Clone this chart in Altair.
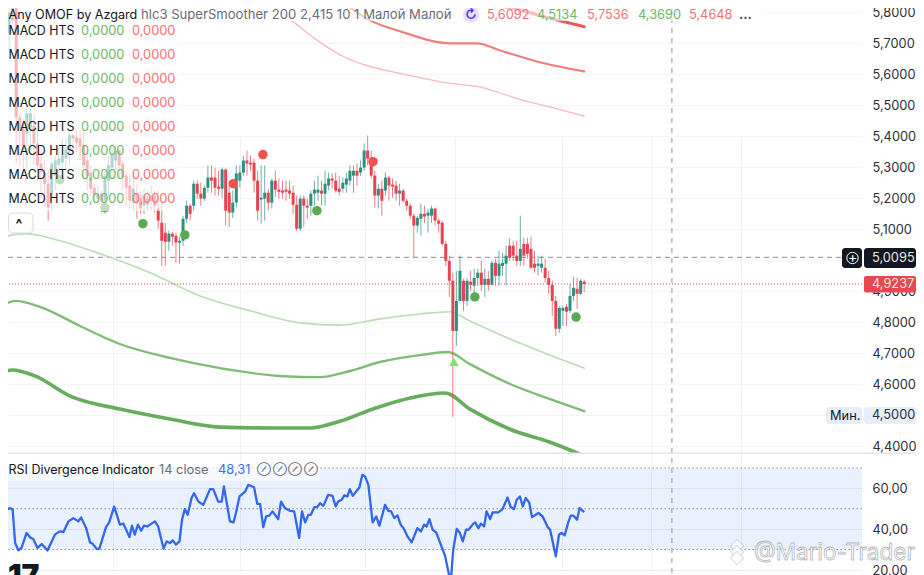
import altair as alt
import pandas as pd

FONT = "Inter"

opens = [5.742,5.823,5.732,5.850,5.823,5.461,5.425,5.409,5.428,5.435,
5.377,5.312,5.283,5.247,5.209,5.273,5.309,5.315,5.328,5.354,
5.403,5.396,5.393,5.373,5.322,5.283,5.234,5.199,5.215,5.192,
5.257,5.299,5.322,5.354,5.312,5.273,5.241,5.186,5.215,5.202,
5.176,5.199,5.192,5.209,5.167,5.121,5.089,5.060,5.086,5.079,
5.057,5.063,5.134,5.176,5.176,5.247,5.215,5.199,5.234,5.267,
5.267,5.238,5.231,5.293,5.218,5.154,5.186,5.257,5.283,5.322,
5.315,5.315,5.257,5.196,5.199,5.218,5.186,5.257,5.228,5.225,
5.228,5.225,5.218,5.179,5.102,5.199,5.176,5.176,5.215,5.218,
5.225,5.215,5.241,5.264,5.257,5.231,5.231,5.244,5.257,5.273,
5.289,5.283,5.299,5.354,5.331,5.273,5.209,5.231,5.225,5.267,
5.244,5.241,5.215,5.225,5.192,5.176,5.144,5.112,5.134,5.150,
5.144,5.144,5.167,5.128,5.121,5.053,4.998,4.934,4.772,4.869,
4.934,4.869,4.931,4.918,4.943,4.960,4.921,4.940,4.921,4.992,
4.950,4.982,4.989,5.047,5.047,5.015,4.998,5.053,5.053,5.037,
4.989,4.982,4.976,4.976,4.943,4.921,4.869,4.779,4.837,4.850,
4.837,4.885,4.908,4.892,4.931]
highs = [5.850,5.840,5.840,5.850,5.840,5.474,5.457,5.490,5.490,5.474,
5.419,5.360,5.322,5.289,5.322,5.338,5.370,5.393,5.393,5.412,
5.409,5.419,5.419,5.419,5.354,5.306,5.247,5.241,5.225,5.289,
5.338,5.377,5.370,5.360,5.322,5.289,5.273,5.289,5.247,5.225,
5.231,5.225,5.241,5.225,5.225,5.192,5.121,5.095,5.092,5.089,
5.076,5.144,5.192,5.183,5.257,5.257,5.250,5.241,5.306,5.306,
5.299,5.289,5.299,5.296,5.241,5.225,5.306,5.306,5.338,5.354,
5.338,5.328,5.289,5.306,5.306,5.231,5.264,5.289,5.264,5.257,
5.257,5.257,5.241,5.209,5.209,5.209,5.199,5.225,5.257,5.273,
5.257,5.289,5.283,5.280,5.283,5.273,5.267,5.283,5.306,5.306,
5.312,5.322,5.377,5.403,5.354,5.289,5.247,5.257,5.283,5.273,
5.264,5.257,5.247,5.231,5.199,5.183,5.150,5.144,5.183,5.176,
5.167,5.176,5.170,5.134,5.128,5.063,5.015,4.960,4.966,5.015,
4.940,4.943,4.966,4.973,4.973,4.998,4.973,4.966,4.998,5.005,
5.031,5.024,5.047,5.070,5.063,5.063,5.144,5.073,5.073,5.076,
5.031,5.015,5.015,5.005,4.966,4.934,4.885,4.853,4.853,4.859,
4.924,4.947,4.943,4.940,4.937]
lows = [5.684,5.651,5.677,5.760,5.312,5.306,5.273,5.289,5.354,5.306,
5.257,5.199,5.176,5.128,5.160,5.225,5.257,5.273,5.289,5.306,
5.354,5.348,5.322,5.257,5.225,5.209,5.192,5.176,5.154,5.150,
5.209,5.257,5.283,5.264,5.225,5.176,5.167,5.160,5.134,5.150,
5.150,5.160,5.160,5.154,5.102,4.982,4.982,5.031,5.047,4.992,
4.989,5.047,5.121,5.128,5.160,5.199,5.176,5.192,5.218,5.218,
5.209,5.209,5.202,5.112,5.108,5.137,5.170,5.234,5.273,5.273,
5.289,5.218,5.128,5.118,5.128,5.160,5.167,5.205,5.199,5.199,
5.192,5.199,5.150,5.095,5.095,5.108,5.134,5.144,5.176,5.192,
5.176,5.176,5.225,5.231,5.218,5.209,5.218,5.218,5.241,5.218,
5.241,5.273,5.289,5.306,5.264,5.170,5.167,5.144,5.209,5.192,
5.202,5.192,5.176,5.186,5.160,5.134,5.008,5.089,5.079,5.121,
5.089,5.121,5.112,5.089,5.047,4.982,4.882,4.494,4.724,4.869,
4.837,4.853,4.901,4.885,4.918,4.901,4.882,4.901,4.918,4.918,
4.918,4.950,4.918,4.998,4.998,4.982,4.982,4.982,5.005,4.973,
4.960,4.950,4.960,4.927,4.892,4.821,4.756,4.766,4.788,4.788,
4.830,4.869,4.843,4.888,4.898]
closes = [5.840,5.703,5.800,5.774,5.461,5.419,5.370,5.474,5.474,5.377,
5.306,5.283,5.247,5.170,5.312,5.322,5.328,5.338,5.360,5.403,
5.393,5.380,5.367,5.306,5.273,5.231,5.209,5.215,5.192,5.273,
5.306,5.344,5.354,5.306,5.267,5.234,5.192,5.231,5.183,5.167,
5.209,5.179,5.209,5.176,5.128,5.063,5.060,5.086,5.076,5.057,
5.063,5.134,5.176,5.150,5.247,5.215,5.199,5.234,5.267,5.257,
5.234,5.231,5.293,5.160,5.154,5.186,5.280,5.283,5.322,5.312,
5.309,5.257,5.160,5.202,5.218,5.186,5.257,5.228,5.221,5.218,
5.221,5.215,5.179,5.102,5.199,5.176,5.170,5.215,5.228,5.228,
5.215,5.247,5.264,5.257,5.225,5.221,5.250,5.264,5.289,5.289,
5.273,5.299,5.354,5.328,5.273,5.209,5.231,5.192,5.267,5.241,
5.238,5.215,5.225,5.192,5.176,5.144,5.112,5.137,5.150,5.141,
5.154,5.167,5.128,5.118,5.053,4.998,4.934,4.772,4.869,4.966,
4.869,4.934,4.921,4.943,4.960,4.921,4.940,4.921,4.992,4.950,
4.989,4.992,5.015,5.008,5.015,4.998,5.037,5.015,5.021,4.976,
4.976,4.989,4.989,4.943,4.921,4.869,4.779,4.846,4.846,4.834,
4.885,4.911,4.892,4.934,4.9237]

thin_red_bar = [73.5,79.7,89.6,96.6,101.7,112.1,126.2,133.8,145.9,157.2,164]
thin_red = [5.839,5.790,5.703,5.655,5.632,5.603,5.571,5.561,5.519,5.486,5.4648]
mid_red_bar = [95.2,103.7,112.1,126.2,133.8,140.3,151.5,164]
mid_red = [5.839,5.774,5.739,5.700,5.700,5.677,5.639,5.6092]
thick_red_bar = [126.2,133.8,145.9,154.4,164]
thick_red = [5.839,5.832,5.807,5.781,5.7536]

thin_green_bar = [-0.6,6.5,16.3,27.6,41.7,55.8,69.9,84,95.2,106.5,117.7,126.2,131.8,143.1,154.4,164]
thin_green = [5.073,5.086,5.063,5.021,4.960,4.885,4.837,4.798,4.791,4.811,4.827,4.834,4.804,4.746,4.694,4.652]
mid_green_bar = [-0.6,3.7,10.7,22,33.2,47.3,61.4,78.3,89.6,98,106.5,117.7,125.6,131.8,143.1,154.4,164]
mid_green = [4.850,4.869,4.850,4.788,4.730,4.685,4.652,4.627,4.623,4.643,4.672,4.694,4.704,4.665,4.601,4.552,4.5134]
thick_green_bar = [-0.6,2.8,9.3,19.2,33.2,47.3,61.4,75.5,86.8,95.2,105.1,115,124.8,131.8,143.1,154.4,164]
thick_green = [4.636,4.646,4.627,4.562,4.520,4.488,4.462,4.459,4.459,4.481,4.523,4.556,4.572,4.520,4.455,4.413,4.3690]

red_dot_bar = [73.5,65.1,104.5]
red_dot_price = [5.341,5.247,5.318]
green_dot_bar = [39.7,51.5,88.7,133.2,161.7,16.3,29]
green_dot_price = [5.118,5.082,5.160,4.882,4.817,5.260,5.170]

rsi_bar = [-0.6,0.2,1.1,2.3,3.0,3.7,4.6,5.5,6.9,8.1,8.8,10,11.2,12.8,14.9,16.2,17.3,18.7,20.1,21.5,22.3,23.7,24.8,25.5,26.7,27.4,
29.3,30.2,31.6,33.2,34.2,35.9,36.6,37.4,38.3,39.2,40,40.9,41.7,43.1,44,45.5,46.4,47.3,48.1,49,50,50.7,51.5,52.3,53.4,54.1,55.3,56.7,
58.6,59.5,60.9,61.9,62.5,64.2,65.2,65.9,66.9,68.5,69.4,71,71.9,72.7,73.6,74.4,75.3,76.2,77.8,78.6,79.7,81.1,82.3,83.7,84.5,85.4,86.3,
87,88,88.8,89.6,90.5,91.9,93.1,94,94.7,95.7,96.4,97.3,98,98.8,100.7,101.5,102.3,103.2,104.4,105.4,106.3,107.9,108.8,109.6,110.5,111.4,
112.3,113.1,114.2,115.4,117,118,118.9,119.6,120.4,121.3,122.3,124.8,126.4,127.1,128.1,129,129.8,130.7,131.4,132.8,133.3,134.2,134.9,
135.8,136.5,137.5,138.2,139.8,141,142.4,143.3,144.2,145,145.9,146.7,147.5,148.5,149.3,151.1,152.3,153.7,154.4,156,156.9,157.6,158.5,
159.5,160.2,161,162,162.7,164]
rsi_value = [51.9,43,49.5,50.3,49.5,33.2,29.7,30.8,38.1,35.7,35.2,30.8,32.7,29.5,37.3,38.9,38.6,43.8,45.4,43.8,45.7,40.5,33.5,32.9,30.3,30.3,
41,43.3,51.1,42.2,42.7,36.1,41.7,37.3,42.2,39.2,41.7,41.3,42.2,43.8,41.3,30.5,34,33.2,34.5,32.4,34,44.6,49.8,47,55.2,57.6,53.5,51.9,
59.6,59.6,53.5,53.5,60.9,43.8,43.3,47.9,56,58.4,61.7,60.5,52.4,52.4,41,46.2,46.6,48.7,44.9,53.5,50.3,49,48.7,35.7,48.7,43.3,47,
47,50.8,50.8,52.7,51.4,56.8,56.3,51.1,53.5,54.4,56.5,56,59.6,56.3,60.5,66.6,65.7,61.7,43.3,46.2,41.7,51.9,49,48.7,45.4,46.7,
42.2,40.5,36.5,33.5,40.5,38.9,42.2,41.3,44.9,39.7,38.4,27,13.7,30,40.1,38.1,34,39.7,39.7,42.7,43.3,40.5,42.7,
41.3,48.7,44.9,48.2,48.2,49.8,55.5,50.8,49.8,54.4,56,51.1,55.2,53.1,45.9,47.9,46.2,41,39.7,26.7,37.3,38.1,37,
43.3,46.6,46.6,44.6,50.3,48.31]

price_ticks = [4.4,4.5,4.6,4.7,4.8,4.9,5.0,5.1,5.2,5.3,5.4,5.5,5.6,5.7,5.8]
rsi_ticks = [20,40,60]
rsi_bands = [70,50,30]
time_grid_bars = [31.3,67,102.2,127.6,157.7,182.8,208.2]

last_price = 4.9237
cross_price = 5.0095
cross_bar = 188.7
arrow_bar = [127.3]
arrow_price = [4.672]

W, H = 854, 567
x_scale = alt.Scale(domain=[1.69, 242.25], range=[0, W], nice=False, zero=False)
p_scale = alt.Scale(domain=[4.4, 5.8], range=[438.3, 4.3], nice=False, zero=False)
r_scale = alt.Scale(domain=[20, 60], range=[562, 480.3], nice=False, zero=False)

x_axis = alt.Axis(values=time_grid_bars, grid=True, gridColor="#f1f2f5", gridWidth=1,
                  labels=False, ticks=False, domain=False, title=None)
p_axis = alt.Axis(orient="right", values=price_ticks, grid=True, gridColor="#f3f4f6", gridWidth=1,
                  ticks=False, domain=False, title=None, labelFont=FONT, labelFontSize=12.8,
                  labelColor="#2e3038", labelPadding=10, labelAlign="left", labelBaseline="middle",
                  labelExpr="abs(datum.value-5)<0.01||abs(datum.value-4.5)<0.01?'':replace(format(datum.value,'.4f'),'.',',')",
                  labelOverlap=False, labelBound=False, labelFlush=False)
r_axis = alt.Axis(orient="right", values=rsi_ticks, grid=True, gridColor="#eef0f3", gridWidth=1,
                  ticks=False, domain=False, title=None, labelFont=FONT, labelFontSize=12.8,
                  labelColor="#2e3038", labelPadding=10, labelAlign="left", labelBaseline="middle",
                  labelExpr="replace(format(datum.value,'.2f'),'.',',')", labelOverlap=False, labelBound=False, labelFlush=False)

X = lambda f: alt.X(f, type="quantitative", scale=x_scale, axis=x_axis, title=None)
PY = lambda f: alt.Y(f, type="quantitative", scale=p_scale, axis=p_axis, title=None)
RY = lambda f: alt.Y(f, type="quantitative", scale=r_scale, axis=r_axis, title=None)

candles = pd.DataFrame({"bar": list(range(len(opens))), "o": opens, "h": highs, "l": lows, "c": closes})
candles["dir"] = ["up" if c >= o else "down" for o, c in zip(opens, closes)]
dir_color = alt.Color("dir:N", scale=alt.Scale(domain=["up", "down"], range=["#2f9080", "#e8434f"]), legend=None)


def line(bars, vals, color, width):
    df = pd.DataFrame({"bar": bars, "v": vals})
    return alt.Chart(df).mark_line(color=color, strokeWidth=width, interpolate="monotone", strokeCap="round").encode(x=X("bar"), y=PY("v"))


main_layers = [
    alt.Chart(pd.DataFrame({"v": [cross_price]})).mark_rule(color="#a3a6af", strokeDash=[5, 4], size=1.2).encode(
        y=PY("v"), x=alt.value(0), x2=alt.value(834)),
    line(thin_red_bar, thin_red, "#f9bab8", 1.3),
    line(mid_red_bar, mid_red, "#f47d7b", 2.2),
    line(thick_red_bar, thick_red, "#ef5a58", 3.2),
    line(thin_green_bar, thin_green, "#b9deb4", 1.6),
    line(mid_green_bar, mid_green, "#80bc76", 2.4),
    line(thick_green_bar, thick_green, "#68ac5d", 3.6),
    alt.Chart(candles).mark_rule(size=1, opacity=0.7).encode(x=X("bar"), y=PY("l"), y2=alt.Y2("h"), color=dir_color),
    alt.Chart(candles).mark_rule(size=3).encode(x=X("bar"), y=PY("o"), y2=alt.Y2("c"), color=dir_color),
    alt.Chart(pd.DataFrame({"bar": red_dot_bar, "v": red_dot_price})).mark_circle(size=90, color="#ef5350", opacity=1).encode(x=X("bar"), y=PY("v")),
    alt.Chart(pd.DataFrame({"bar": green_dot_bar, "v": green_dot_price})).mark_circle(size=90, color="#5da852", opacity=1).encode(x=X("bar"), y=PY("v")),
    alt.Chart(pd.DataFrame({"bar": arrow_bar, "v": arrow_price})).mark_point(shape="triangle-up", filled=True, size=90, color="#7fe56a", opacity=1).encode(x=X("bar"), y=PY("v")),
    alt.Chart(pd.DataFrame({"v": [last_price]})).mark_rule(color="#f0434f", strokeDash=[1, 2], size=1).encode(y=PY("v")),
]
main = alt.layer(*main_layers)

rsi_df = pd.DataFrame({"bar": rsi_bar, "v": rsi_value})
rsi_layers = [
    alt.Chart(pd.DataFrame({"k": [0]})).mark_rect(color="white").encode(
        x=alt.value(565), x2=alt.value(600), y=alt.value(446), y2=alt.value(452)),
    alt.Chart(pd.DataFrame({"a": [rsi_bands[0]], "b": [rsi_bands[2]]})).mark_rect(color="#2f7ff0", opacity=0.11).encode(
        x=alt.value(0), x2=alt.value(W), y=RY("a"), y2=alt.Y2("b")),
    alt.Chart(pd.DataFrame({"v": rsi_bands})).mark_rule(color="#8a8d96", strokeDash=[1.5, 2.5], size=1).encode(y=RY("v")),
    alt.Chart(pd.DataFrame({"b": [cross_bar]})).mark_rule(color="#a3a6af", strokeDash=[5, 5], size=1.2).encode(x=X("b")),
    alt.Chart(rsi_df).mark_line(color="#3366ee", strokeWidth=2.3, strokeJoin="round").encode(x=X("bar"), y=RY("v")),
]
rsi = alt.layer(*rsi_layers)

OFF = 8


def txt(s, x, y, color="#131722", size=12.8, align="left", weight=400, **kw):
    return alt.Chart().mark_text(text=s, align=align, baseline="middle", font=FONT, fontSize=size,
                                 color=color, fontWeight=weight, **kw).encode(x=alt.value(x - OFF), y=alt.value(y - OFF))


def box(x0, x1, y0, y1, color, opacity=1.0, radius=0, **kw):
    return alt.Chart().mark_rect(color=color, opacity=opacity, cornerRadius=radius, **kw).encode(
        x=alt.value(x0 - OFF), x2=alt.value(x1 - OFF), y=alt.value(y0 - OFF), y2=alt.value(y1 - OFF))


GREEN_T, RED_T, GRAY_T = "#6cb866", "#f57276", "#6a6d78"
TY = 14.5
overlay = [
    box(0, 765, 0, 21, "white", 0.62),
    box(0, 180, 21, 211, "white", 0.62),
    box(0, 320, 461, 481, "white", 0.62),
    box(0, 924, 452.6, 454, "#e3e4ec"),
    txt("Any OMOF by Azgard", 8.5, TY, size=12.6),
    txt("hlc3 SuperSmoother 200 2,415 10 1 Малой Малой", 141, TY, GRAY_T, 13.1),
    alt.Chart().mark_point(shape="circle", filled=True, size=270, color="#e6e1fd", opacity=1).encode(x=alt.value(471 - OFF), y=alt.value(TY - OFF)),
    txt("↻", 471, TY, "#5b30ff", 13, "center", 700),
    txt("5,6092", 487, TY, RED_T),
    txt("4,5134", 537, TY, GREEN_T),
    txt("5,7536", 587, TY, RED_T),
    txt("4,3690", 638, TY, GREEN_T),
    txt("5,4648", 689, TY, RED_T),
    txt("...", 739, TY, "#4a4d57", 12.8, "left", 700),
]
for row in range(8):
    yy = 31 + 24 * row
    overlay += [txt("MACD HTS", 8.5, yy, size=12.4), txt("0,0000", 81, yy, GREEN_T), txt("0,0000", 132, yy, RED_T)]
overlay += [
    box(8.5, 33, 213, 233, "white", 1, 4, stroke="#d6d8de", strokeWidth=1),
    txt("^", 19, 225, "#131722", 14, "center", 700),
    txt("RSI Divergence Indicator", 8.5, 470, size=12.5),
    txt("14 close", 159, 470, GRAY_T),
    txt("48,31", 218, 470, "#3f6df0"),
    txt("⊘", 264, 470, "#5a5d66", 10, "center"),
    txt("⊘", 280, 470, "#5a5d66", 10, "center"),
    txt("⊘", 295, 470, "#5a5d66", 10, "center"),
    txt("⊘", 311, 470, "#5a5d66", 10, "center"),
    box(842, 862, 248, 268, "#131722", 1, 3),
    alt.Chart().mark_point(shape="circle", filled=False, size=130, stroke="white", strokeWidth=1, opacity=1).encode(x=alt.value(852.5 - OFF), y=alt.value(258 - OFF)),
    txt("+", 852.5, 257.5, "white", 14, "center"),
    box(864, 916, 248, 268, "#131722", 1, 3),
    txt("5,0095", 872, 258, "#e6e7ea"),
    box(864, 916, 276, 292.5, "#e5484f", 1, 2),
    txt("4,9237", 872, 284, "#fde3e3"),
    box(826, 862, 407, 424, "#e4eefc", 1, 3),
    txt("Мин.", 830, 415.5, "#131722"),
    box(864, 916, 407, 424, "#e4eefc", 1, 3),
    txt("4,5000", 872, 415, "#2e3038"),
    txt("17", 8, 577, "#131722", 30, "left", 900),
]
for cy in [546, 552, 558]:
    overlay.append(alt.Chart().mark_point(shape="diamond", filled=True, size=170, fill="white", stroke="#c4c6cb", strokeWidth=1, opacity=0.9).encode(
        x=alt.value(737 - OFF), y=alt.value(cy - OFF)))
overlay.append(alt.Chart().mark_text(text="@Mario-Trader", align="left", baseline="middle", font=FONT, fontSize=22.5,
                                     fill="white", stroke="#b4b6bb", strokeWidth=0.8, opacity=0.95).encode(
    x=alt.value(754 - OFF), y=alt.value(553 - OFF)))

chart = alt.layer(main, rsi, alt.layer(*overlay)).resolve_scale(y="independent").properties(
    width=W, height=H, padding={"left": 0, "top": 0, "right": 54, "bottom": 0},
    autosize=alt.AutoSizeParams(type="none"), background="white",
).configure_view(stroke=None)

chart.save("out.html", embed_options={"renderer": "svg", "actions": False})
